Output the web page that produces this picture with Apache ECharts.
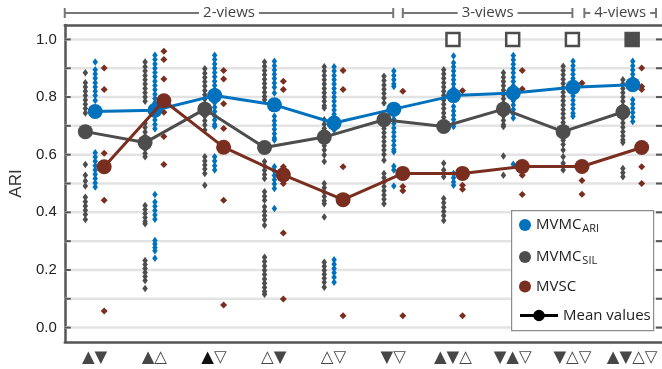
<!DOCTYPE html>
<html>
<head>
<meta charset="utf-8">
<script src="https://cdn.jsdelivr.net/npm/echarts@6/dist/echarts.min.js"></script>
<style>
  html, body { margin: 0; padding: 0; background: #fff; }
  #chart { width: 662px; height: 369px; }
</style>
</head>
<body>
<div id="chart"></div>
<script>
// View combinations shown on the x axis
const categories = ['▲▼', '▲△', '▲▽', '△▼', '△▽', '▼▽', '▲▼△', '▼▲▽', '▼△▽', '▲▼△▽'];

// Mean ARI per combination
const ariMean  = [0.750, 0.754, 0.805, 0.773, 0.710, 0.758, 0.805, 0.814, 0.834, 0.843];
const silMean  = [0.680, 0.642, 0.758, 0.625, 0.661, 0.721, 0.698, 0.758, 0.680, 0.748];
const mvscMean = [0.558, 0.787, 0.626, 0.530, 0.444, 0.535, 0.535, 0.559, 0.559, 0.625];

// Individual runs, MVMC selected by ARI
const ariRuns = [
  [0.922, 0.895, 0.88, 0.865, 0.85, 0.835, 0.82, 0.805, 0.788, 0.607, 0.592, 0.577, 0.562, 0.547, 0.532, 0.517, 0.502, 0.488],
  [0.945, 0.93, 0.915, 0.9, 0.885, 0.87, 0.855, 0.84, 0.825, 0.81, 0.795, 0.78, 0.765, 0.75, 0.735, 0.72, 0.705, 0.69, 0.462, 0.436, 0.421, 0.406, 0.391, 0.376, 0.302, 0.29, 0.278, 0.267, 0.241],
  [0.945, 0.93, 0.915, 0.9, 0.885, 0.87, 0.855, 0.84, 0.825, 0.81, 0.795, 0.78, 0.765, 0.75, 0.735, 0.72, 0.705, 0.698, 0.593, 0.578, 0.562, 0.547],
  [0.924, 0.909, 0.894, 0.879, 0.864, 0.849, 0.834, 0.814, 0.733, 0.718, 0.703, 0.688, 0.673, 0.658, 0.651, 0.558, 0.543, 0.528, 0.513, 0.498, 0.483, 0.413],
  [0.905, 0.89, 0.875, 0.86, 0.845, 0.83, 0.815, 0.80, 0.785, 0.77, 0.755, 0.74, 0.725, 0.71, 0.695, 0.686, 0.235, 0.22, 0.205, 0.19, 0.175, 0.157],
  [0.89, 0.875, 0.86, 0.845, 0.837, 0.738, 0.723, 0.708, 0.693, 0.678, 0.663, 0.648, 0.633, 0.618, 0.61, 0.56, 0.547, 0.491],
  [0.942, 0.919, 0.905, 0.89, 0.875, 0.86, 0.845, 0.83, 0.815, 0.808, 0.767, 0.752, 0.737, 0.722, 0.707, 0.698, 0.535, 0.52, 0.505, 0.494],
  [0.944, 0.929, 0.914, 0.899, 0.884, 0.869, 0.854, 0.839, 0.826, 0.802, 0.787, 0.772, 0.757, 0.742, 0.727, 0.567],
  [0.924, 0.909, 0.894, 0.879, 0.864, 0.849, 0.834, 0.819, 0.804, 0.789, 0.774, 0.759, 0.744, 0.733],
  [0.924, 0.909, 0.894, 0.879, 0.864, 0.849, 0.837, 0.791, 0.776, 0.761, 0.746, 0.731, 0.715]
];

// Individual runs, MVMC selected by silhouette
const silRuns = [
  [0.884, 0.85, 0.835, 0.82, 0.805, 0.79, 0.775, 0.76, 0.745, 0.566, 0.529, 0.509, 0.491, 0.452, 0.437, 0.422, 0.407, 0.392, 0.375],
  [0.922, 0.905, 0.89, 0.875, 0.86, 0.845, 0.83, 0.815, 0.80, 0.785, 0.709, 0.694, 0.679, 0.664, 0.649, 0.634, 0.619, 0.604, 0.593, 0.424, 0.41, 0.396, 0.382, 0.368, 0.36, 0.233, 0.219, 0.205, 0.191, 0.177, 0.163, 0.136],
  [0.898, 0.883, 0.868, 0.853, 0.838, 0.823, 0.808, 0.793, 0.778, 0.763, 0.748, 0.733, 0.718, 0.703, 0.686, 0.593, 0.578, 0.564, 0.55, 0.535, 0.494],
  [0.922, 0.907, 0.892, 0.877, 0.862, 0.847, 0.832, 0.817, 0.802, 0.791, 0.576, 0.561, 0.546, 0.531, 0.517, 0.471, 0.456, 0.442, 0.419, 0.404, 0.389, 0.374, 0.355, 0.244, 0.229, 0.214, 0.199, 0.184, 0.169, 0.154, 0.139, 0.125, 0.116],
  [0.905, 0.89, 0.875, 0.86, 0.845, 0.83, 0.815, 0.80, 0.785, 0.77, 0.762, 0.721, 0.706, 0.691, 0.676, 0.661, 0.646, 0.631, 0.616, 0.599, 0.576, 0.50, 0.485, 0.47, 0.455, 0.44, 0.43, 0.384, 0.227, 0.213, 0.199, 0.185, 0.171, 0.157, 0.14],
  [0.872, 0.857, 0.842, 0.827, 0.812, 0.797, 0.779, 0.721, 0.706, 0.691, 0.676, 0.661, 0.646, 0.631, 0.616, 0.601, 0.581, 0.535, 0.52, 0.505, 0.49, 0.475, 0.46, 0.445, 0.43],
  [0.895, 0.88, 0.865, 0.85, 0.835, 0.82, 0.805, 0.79, 0.775, 0.76, 0.745, 0.73, 0.715, 0.698, 0.570, 0.547, 0.523, 0.448, 0.433, 0.418, 0.403, 0.388, 0.372],
  [0.884, 0.869, 0.854, 0.839, 0.824, 0.809, 0.794, 0.779, 0.764, 0.749, 0.734, 0.719, 0.704, 0.698, 0.595, 0.529],
  [0.907, 0.892, 0.877, 0.862, 0.847, 0.832, 0.817, 0.802, 0.787, 0.772, 0.757, 0.742, 0.727, 0.712, 0.698, 0.68, 0.665, 0.65, 0.635, 0.616, 0.593, 0.57, 0.547],
  [0.86, 0.845, 0.83, 0.815, 0.80, 0.785, 0.77, 0.755, 0.74, 0.725, 0.71, 0.695, 0.68, 0.665, 0.651, 0.642, 0.552, 0.537, 0.523]
];

// Individual runs, MVSC
const mvscRuns = [
  [0.901, 0.826, 0.605, 0.442, 0.058],
  [0.959, 0.930, 0.863, 0.747, 0.663, 0.566],
  [0.892, 0.863, 0.777, 0.691, 0.442, 0.078],
  [0.855, 0.826, 0.558, 0.523, 0.500, 0.328, 0.099],
  [0.892, 0.826, 0.558, 0.041],
  [0.820, 0.490, 0.475, 0.041],
  [0.822, 0.494, 0.480, 0.041],
  [0.892, 0.828, 0.529, 0.462],
  [0.849, 0.510, 0.463],
  [0.901, 0.837, 0.826, 0.558, 0.500]
];

// Flags drawn on the 1.0 line: '' none, 'open' hollow square, 'filled' solid square
const topFlags = ['', '', '', '', '', '', 'open', 'open', 'open', 'filled'];
const flagLevel = 1.0;

// View-count groups along the top
const viewGroups = [
  { label: '2-views', from: 0,    to: 5.5 },
  { label: '3-views', from: 5.66, to: 8.5 },
  { label: '4-views', from: 8.7,  to: 9.9 }
];

const gridTicks = [0, 0.1, 0.2, 0.3, 0.4, 0.5, 0.6, 0.7, 0.8, 0.9, 1.0];

const BLUE = '#0072BD', GRAY = '#4d4d4d', BROWN = '#7a2e1f', AXIS = '#555555';
const UI_FONT = 'Open Sans';

// horizontal dodge of each method inside a combination slot
const dodge = { ari: 0.01, sil: -0.155, mvsc: 0.16 };

function runsToPoints(runs, off) {
  const pts = [];
  runs.forEach((vals, i) => vals.forEach(v => pts.push([i + 0.5 + off, v])));
  return pts;
}
function meansToPoints(means, off) {
  return means.map((v, i) => [i + 0.5 + off, v]);
}

const chart = echarts.init(document.getElementById('chart'), null, { renderer: 'canvas' });

const dotSeries = (name, runs, off, color, size) => ({
  type: 'scatter', name, xAxisIndex: 0, yAxisIndex: 0,
  data: runsToPoints(runs, off),
  symbol: 'diamond', symbolSize: size,
  itemStyle: { color, opacity: 1 }, z: 3, silent: true
});
const meanSeries = (means, off, color, z) => ({
  type: 'line', xAxisIndex: 0, yAxisIndex: 0,
  data: meansToPoints(means, off),
  symbol: 'circle', symbolSize: 15, showSymbol: true,
  lineStyle: { color, width: 3 }, itemStyle: { color },
  z, silent: true
});

const subRich = {
  m: { fontFamily: UI_FONT, fontSize: 15, color: '#222', verticalAlign: 'middle', lineHeight: 18 },
  s: { fontFamily: UI_FONT, fontSize: 11, color: '#222', verticalAlign: 'bottom', lineHeight: 18, padding: [8, 0, 0, 1] }
};

const option = {
  animation: false,
  backgroundColor: '#fff',
  grid: { left: 60, right: 0, top: 25, bottom: 27, containLabel: false },
  xAxis: [
    { type: 'value', min: 0, max: 10, show: false },
    {
      type: 'category', data: categories, position: 'bottom', boundaryGap: true,
      axisLine: { onZero: false, lineStyle: { color: AXIS, width: 2.5 } },
      axisTick: { inside: true, length: 6, alignWithLabel: true, interval: 0, lineStyle: { color: AXIS, width: 2 } },
      axisLabel: {
        margin: 7, interval: 0,
        formatter: (val, idx) => idx === 2 ? '{k|▲}{t|▽}' : '{t|' + val + '}',
        rich: {
          t: { fontFamily: 'DejaVu Sans', fontSize: 16.5, color: '#474747' },
          k: { fontFamily: 'DejaVu Sans', fontSize: 16.5, color: '#111' }
        }
      },
      splitLine: { show: false }
    },
    {
      type: 'category', data: categories, position: 'top', boundaryGap: true,
      axisLine: { onZero: false, lineStyle: { color: AXIS, width: 2.5 } },
      axisTick: { inside: true, length: 6, alignWithLabel: true, interval: 0, lineStyle: { color: AXIS, width: 2 } },
      axisLabel: { show: false },
      splitLine: { show: false }
    }
  ],
  yAxis: [{
    type: 'value', min: -0.05, max: 1.05, interval: 0.05,
    name: 'ARI', nameLocation: 'middle', nameGap: 36, nameRotate: 90,
    nameTextStyle: { fontFamily: 'Liberation Sans', fontSize: 17, color: '#333' },
    axisLine: { show: true, onZero: false, lineStyle: { color: AXIS, width: 2.5 } },
    axisTick: { show: false },
    splitLine: { show: false },
    axisLabel: {
      margin: 8, fontFamily: 'Liberation Sans', fontSize: 15, color: '#222',
      showMinLabel: false, showMaxLabel: false,
      formatter: v => {
        const k = Math.round(v * 100);
        return (k >= 0 && k % 20 === 0) ? (k / 100).toFixed(1) : '';
      }
    }
  }],
  legend: [
    {
      data: [
        { name: 'ARI', icon: 'circle' },
        { name: 'SIL', icon: 'circle' },
        { name: 'MVSC', icon: 'circle' }
      ],
      orient: 'vertical', left: 514, top: 210, itemWidth: 12, itemHeight: 12, itemGap: 13,
      selectedMode: false, z: 10,
      formatter: name => name === 'MVSC' ? '{m|MVSC}' : '{m|MVMC}{s|' + name + '}',
      textStyle: { rich: subRich, padding: [0, 0, 0, 0] }
    },
    {
      data: [{ name: 'Mean values', icon: 'path://M0,4.5H40V7.5H0Z M14,6a6,6 0 1,1 12,0a6,6 0 1,1 -12,0Z' }],
      left: 515, top: 303, itemWidth: 38, itemHeight: 12, itemGap: 6,
      selectedMode: false, z: 10,
      textStyle: { fontFamily: UI_FONT, fontSize: 15, color: '#222' }
    }
  ],
  series: [
    {
      // horizontal grid with edge ticks
      type: 'custom', xAxisIndex: 0, yAxisIndex: 0, silent: true, z: 1,
      data: gridTicks.map(v => [0, v]),
      renderItem: (params, api) => {
        const v = api.value(1);
        const a = api.coord([0, v]);
        const b = api.coord([10, v]);
        return {
          type: 'group', children: [
            { type: 'line', shape: { x1: a[0], y1: a[1], x2: b[0], y2: b[1] }, style: { stroke: '#e3e3e3', lineWidth: 2.5 } },
            { type: 'line', shape: { x1: a[0], y1: a[1], x2: a[0] + 6, y2: a[1] }, style: { stroke: AXIS, lineWidth: 2 } },
            { type: 'line', shape: { x1: b[0] - 6, y1: b[1], x2: b[0], y2: b[1] }, style: { stroke: AXIS, lineWidth: 2 } }
          ]
        };
      }
    },
    dotSeries('SIL', silRuns, dodge.sil, GRAY, [5.5, 7.5]),
    dotSeries('ARI', ariRuns, dodge.ari, BLUE, [5.5, 7.5]),
    dotSeries('MVSC', mvscRuns, dodge.mvsc, BROWN, 7),
    meanSeries(ariMean, dodge.ari, BLUE, 5),
    meanSeries(silMean, dodge.sil, GRAY, 6),
    meanSeries(mvscMean, dodge.mvsc, BROWN, 7),
    {
      type: 'line', name: 'Mean values', data: [], symbol: 'circle',
      itemStyle: { color: '#000' }, lineStyle: { color: '#000', width: 3 }
    },
    {
      // markers on the 1.0 line
      type: 'scatter', xAxisIndex: 0, yAxisIndex: 0, silent: true, z: 8,
      data: topFlags.map((f, i) => f ? { value: [i + 0.5, flagLevel], filled: f === 'filled' } : null).filter(Boolean),
      symbol: 'rect', symbolSize: 13,
      itemStyle: {
        color: p => p.data.filled ? GRAY : '#fff',
        borderColor: GRAY, borderWidth: 2.5, opacity: 1
      }
    }
  ]
};

chart.setOption(option);

// legend frame and view-group brackets positioned from the axis scale
const yb = 13;
const toPx = v => chart.convertToPixel({ xAxisIndex: 0 }, v);
const graphics = [
  {
    type: 'rect', left: 511, top: 210, z: 5,
    shape: { width: 142, height: 120 },
    style: { fill: '#fff', stroke: '#8c8c8c', lineWidth: 1.2 }
  }
];
viewGroups.forEach(g => {
  const x1 = toPx(g.from), x2 = toPx(g.to);
  graphics.push({
    type: 'group', children: [
      { type: 'line', shape: { x1, y1: yb, x2, y2: yb }, style: { stroke: '#777', lineWidth: 2 } },
      { type: 'line', shape: { x1, y1: yb - 5, x2: x1, y2: yb + 5 }, style: { stroke: '#777', lineWidth: 2 } },
      { type: 'line', shape: { x1: x2, y1: yb - 5, x2: x2, y2: yb + 5 }, style: { stroke: '#777', lineWidth: 2 } },
      {
        type: 'text', x: (x1 + x2) / 2, y: yb,
        style: {
          text: g.label, align: 'center', verticalAlign: 'middle',
          font: '15px "' + UI_FONT + '"', fill: '#444',
          backgroundColor: '#fff', padding: [0, 4]
        }
      }
    ]
  });
});
chart.setOption({ graphic: graphics });
</script>
</body>
</html>
